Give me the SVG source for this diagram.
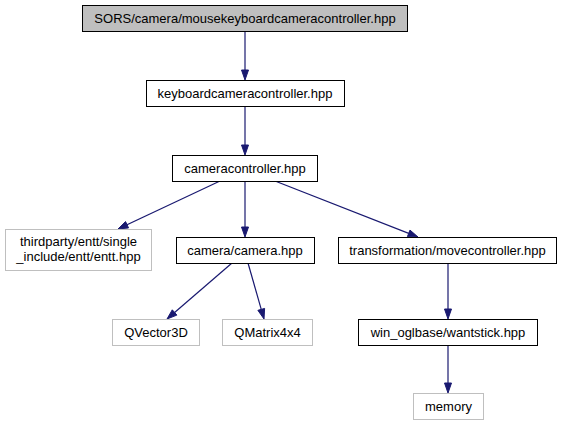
<svg xmlns="http://www.w3.org/2000/svg" width="563" height="425" viewBox="0 0 563 425">
<style>
text{font-family:"Liberation Sans",Arial,sans-serif;font-size:13px;fill:#000;text-anchor:middle}
.n rect{fill:#fff;stroke:#000;stroke-width:1}
.g rect{fill:#fff;stroke:#bfbfbf;stroke-width:1}
.e line{stroke:#191970;stroke-width:1.2}
.e polygon{fill:#191970;stroke:#191970;stroke-width:1}
</style>
<rect width="563" height="425" fill="#fff"/>
<g id="connectors" class="e">
<line x1="245" y1="31" x2="245" y2="70"/><polygon points="241.5,70 245,80 248.5,70"/>
<line x1="245" y1="106" x2="245" y2="145"/><polygon points="241.5,145 245,155 248.5,145"/>
<line x1="245" y1="181" x2="245" y2="227"/><polygon points="241.5,227 245,237 248.5,227"/>
<line x1="220" y1="181" x2="127" y2="224.7"/><polygon points="128.54,227.91 118,229 125.56,221.57"/>
<line x1="275" y1="181" x2="408.7" y2="233.4"/><polygon points="407.41,236.61 418,237 409.97,230.09"/>
<line x1="232" y1="263" x2="174.6" y2="312.5"/><polygon points="176.87,315.12 167,319 172.29,309.82"/>
<line x1="248" y1="263" x2="261.25" y2="309.4"/><polygon points="257.88,310.34 264,319 264.62,308.42"/>
<line x1="448" y1="262" x2="448" y2="309"/><polygon points="444.5,309 448,319 451.5,309"/>
<line x1="448" y1="345" x2="448" y2="383"/><polygon points="444.5,383 448,393 451.5,383"/>
</g>
<g id="node-top"><rect x="82.5" y="5.5" width="325" height="26" fill="#bfbfbf" stroke="#000"/><text x="245" y="23">SORS/camera/mousekeyboardcameracontroller.hpp</text></g>
<g id="node-keyboard" class="n"><rect x="146.5" y="80.5" width="198" height="26"/><text x="245" y="98">keyboardcameracontroller.hpp</text></g>
<g id="node-cameracontroller" class="n"><rect x="172.5" y="155.5" width="145" height="26"/><text x="245" y="173">cameracontroller.hpp</text></g>
<g id="node-entt" class="g"><rect x="5.5" y="229.5" width="146" height="41"/><text x="78.5" y="246">thirdparty/entt/single</text><text x="78.5" y="261">_include/entt/entt.hpp</text></g>
<g id="node-camera" class="n"><rect x="176.5" y="237.5" width="138" height="26"/><text x="245" y="255">camera/camera.hpp</text></g>
<g id="node-movecontroller" class="n"><rect x="338.5" y="237.5" width="218" height="26"/><text x="447.5" y="255">transformation/movecontroller.hpp</text></g>
<g id="node-qvector3d" class="g"><rect x="112.5" y="319.5" width="87" height="26"/><text x="156" y="337">QVector3D</text></g>
<g id="node-qmatrix4x4" class="g"><rect x="222.5" y="319.5" width="90" height="26"/><text x="267.5" y="337">QMatrix4x4</text></g>
<g id="node-wantstick" class="n"><rect x="358.5" y="319.5" width="179" height="26"/><text x="448" y="337">win_oglbase/wantstick.hpp</text></g>
<g id="node-memory" class="g"><rect x="413.5" y="393.5" width="70" height="26"/><text x="448.5" y="411">memory</text></g>
</svg>
